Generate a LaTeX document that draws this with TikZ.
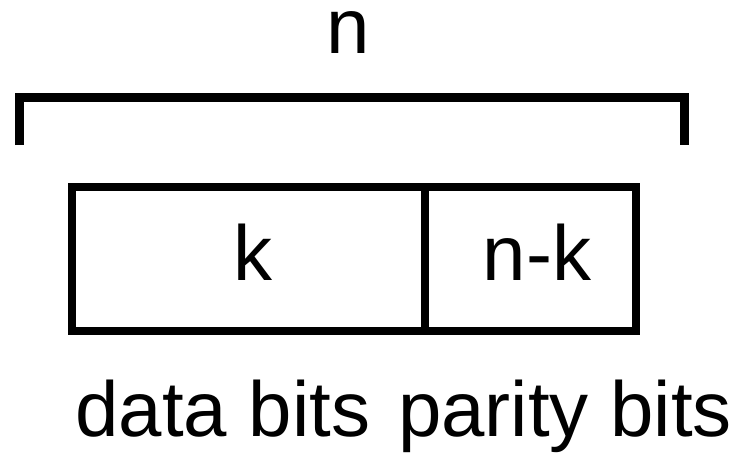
\documentclass[tikz,border=0pt]{standalone}
\usepackage{fontspec}
\setmainfont{Liberation Sans}
\usepackage{tikz}
\usetikzlibrary{positioning}

\tikzset{
	field/.style={draw, line width=8pt, outer sep=0pt, inner sep=0pt, minimum height=144pt},
	bigtext/.style={font=\fontsize{78}{82}\selectfont, inner sep=0pt}
}

\begin{document}
\begin{tikzpicture}[x=1pt, y=-1pt, every node/.style={bigtext}]
			\pgfmathsetmacro{\dataw}{353}
			\pgfmathsetmacro{\parityw}{211}
			\useasboundingbox (0,0) rectangle (738,452);
			% codeword: data part and parity part
			\node[field, minimum width=\dataw pt] (data) at (248.5,259) {};
			\node[field, minimum width=\parityw pt, anchor=west] (parity) at (data.east) {};
			\node[anchor=base] (dataval) at (253,280) {k};
			\node[anchor=base] (parityval) at (537,280) {n-k};
			% labels under the word
			\node[anchor=base] (datalabel) at (223,436) {data bits};
			\node[anchor=base] (paritylabel) at (565,436) {parity bits};
			% bracket over the whole word
			\coordinate (bl) at (19,145);
			\coordinate (br) at (684,145);
			\draw[line width=9pt] (bl) -- ++(0,-48) -| (br);
			\node[anchor=base] (nlabel) at (348,54) {n};
			\end{tikzpicture}
\end{document}
